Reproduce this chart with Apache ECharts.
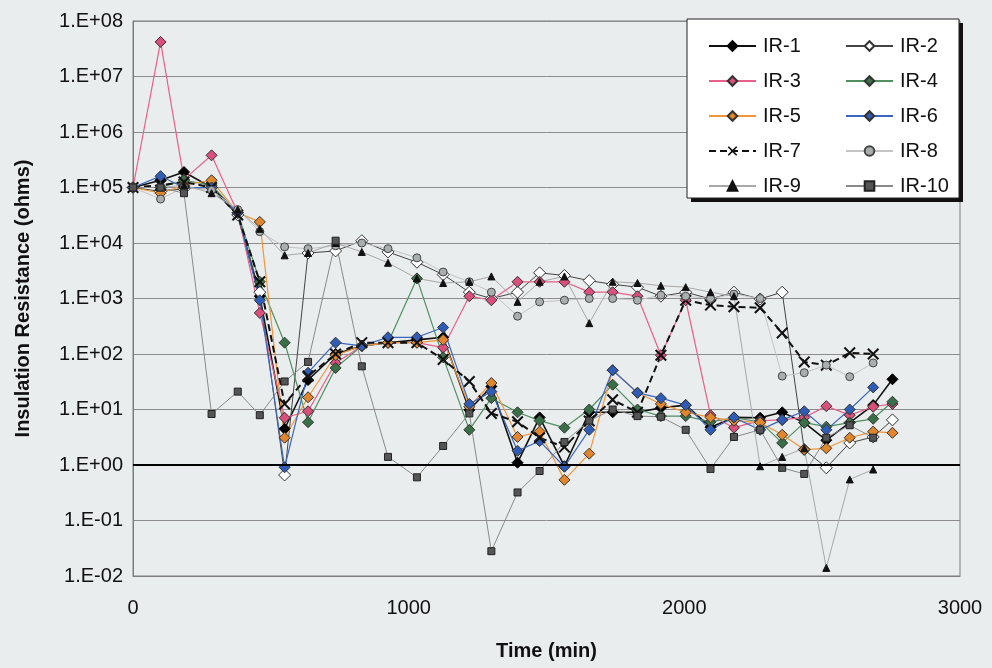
<!DOCTYPE html>
<html>
<head>
<meta charset="utf-8">
<script src="https://cdn.jsdelivr.net/npm/echarts@6/dist/echarts.min.js"></script>
<style>
  html, body { margin: 0; padding: 0; background: #eaeded; }
  #chart { width: 992px; height: 668px; }
</style>
</head>
<body>
<div id="chart"></div>
<script>
// Sampling times (min)
const timeMin = [0, 100, 185, 285, 380, 460, 550, 635, 735, 830, 925, 1030, 1125, 1220, 1300, 1395,
  1475, 1565, 1655, 1740, 1830, 1915, 2005, 2095, 2180, 2275, 2355, 2435, 2515, 2600, 2685, 2755];

// Insulation resistance per channel (ohms)
const ir1 = [1.0e5, 1.35e5, 1.9e5, 1.0e5, 3.2e4, 1.1e3, 4.5, 34, 100, 140, 160, 180, 200, 9.8, 26, 1.1,
  7.2, 0.95, 8.9, 8.9, 8.9, 10.7, 12, 4.8, 7.2, 7.1, 8.9, 5.8, 2.8, 5.8, 12, 35];
const ir2 = [1.0e5, 8.5e4, 9.5e4, 1.0e5, 3.2e4, 1.3e3, 0.66, 6.6e3, 7.2e3, 1.1e4, 6.9e3, 4.5e3, 2.7e3, 1.3e3, 1.0e3, 1.3e3,
  2.9e3, 2.6e3, 2.1e3, 1.8e3, 1.6e3, 1.1e3, 1.3e3, 980, 1.3e3, 980, 1.3e3, 1.9, 0.89, 2.5, 3.2, 6.5];
const ir3 = [1.0e5, 4.2e7, 1.4e5, 3.8e5, 3.5e4, 550, 7.1, 9.3, 69, 140, 160, 160, 130, 1.1e3, 930, 2.0e3,
  2.0e3, 2.0e3, 1.3e3, 1.3e3, 1.1e3, 95, 930, 7.9, 4.7, 6.3, 6.5, 7.2, 11.5, 7.9, 11.2, 12.6];
const ir4 = [1.0e5, 1.0e5, 1.35e5, 1.1e5, 3.5e4, 2.0e3, 160, 5.9, 56, 140, 160, 2.3e3, 87, 4.3, 16, 8.9,
  6.3, 4.7, 10, 28, 10, 7.6, 7.6, 6.0, 7.1, 6.0, 2.5, 5.8, 4.9, 5.8, 6.8, 13.8];
const ir5 = [1.0e5, 7.9e4, 1.1e5, 1.35e5, 3.5e4, 2.4e4, 3.1, 16.6, 95, 140, 160, 160, 180, 11.2, 30, 3.2,
  4.0, 0.54, 1.6, 51, 20, 12.6, 8.9, 7.2, 6.3, 5.8, 3.5, 1.9, 2.0, 3.1, 4.0, 3.8];
const ir6 = [1.0e5, 1.6e5, 1.0e5, 1.0e5, 3.5e4, 930, 0.91, 46, 160, 140, 200, 200, 300, 12.6, 21, 1.8,
  2.7, 0.93, 4.3, 51, 20, 16, 12, 4.3, 7.2, 4.3, 6.5, 9.3, 4.3, 10, 25, null];
const ir7 = [1.0e5, 1.1e5, 1.26e5, 1.0e5, 3.2e4, 2.0e3, 12.6, 40, 100, 160, 160, 160, 80, 32, 8.5, 6.0,
  3.1, 2.1, 6.2, 15, 8.9, 95, 930, 760, 710, 680, 240, 72, 63, 105, 100, null];
const ir8 = [1.0e5, 6.2e4, 1.0e5, 8.9e4, 4.0e4, 1.6e4, 8.5e3, 7.9e3, 8.9e3, 1.0e4, 7.9e3, 5.4e3, 3.0e3, 2.0e3, 1.3e3, 480,
  870, 930, 1.0e3, 1.0e3, 930, 1.15e3, 1.1e3, 1.0e3, 1.2e3, 1.0e3, 40, 46, 63, 39, 69, null];
const ir9 = [1.0e5, 1.0e5, 1.1e5, 7.9e4, 4.0e4, 1.8e4, 6.0e3, 6.6e3, 1.0e4, 6.9e3, 4.4e3, 2.3e3, 1.9e3, 2.0e3, 2.5e3, 870,
  2.0e3, 2.5e3, 360, 2.0e3, 1.9e3, 1.7e3, 1.6e3, 1.3e3, 1.1e3, 0.95, 1.4, 2.0, 0.014, 0.55, 0.83, null];
const ir10 = [1.0e5, 1.0e5, 7.9e4, 8.3, 21, 7.9, 32, 72, 1.1e4, 60, 1.4, 0.6, 2.2, 8.5, 0.028, 0.32,
  0.78, 2.6, 6.3, 10, 7.6, 7.4, 4.3, 0.85, 3.2, 4.3, 0.89, 0.69, 3.1, 5.2, 3.1, null];

const seriesNames = ['IR-1', 'IR-2', 'IR-3', 'IR-4', 'IR-5', 'IR-6', 'IR-7', 'IR-8', 'IR-9', 'IR-10'];
const seriesValues = [ir1, ir2, ir3, ir4, ir5, ir6, ir7, ir8, ir9, ir10];
const xTicks = [0, 1000, 2000, 3000];

const CROSS = 'path://M0,1.2L1.2,0L5,3.8L8.8,0L10,1.2L6.2,5L10,8.8L8.8,10L5,6.2L1.2,10L0,8.8L3.8,5Z';
const EDGE = '#333';

// Per-channel drawing style
const styles = [
  { line: '#111', width: 1.6, symbol: 'diamond', size: 11, fill: '#000', border: '#000' },
  { line: '#444', width: 1, symbol: 'diamond', size: 12, fill: '#fff', border: '#333' },
  { line: '#e8608a', width: 1.2, symbol: 'diamond', size: 11, fill: '#d9507c', border: EDGE },
  { line: '#4f8f60', width: 1.2, symbol: 'diamond', size: 11, fill: '#3a7047', border: EDGE },
  { line: '#f0963a', width: 1.2, symbol: 'diamond', size: 11, fill: '#e0862c', border: EDGE },
  { line: '#3a66c0', width: 1.2, symbol: 'diamond', size: 11, fill: '#2f5db5', border: EDGE },
  { line: '#111', width: 2, type: [7, 4], symbol: CROSS, size: 12, fill: '#111', border: '#111', bw: 0 },
  { line: '#c4c4c4', width: 1, symbol: 'circle', size: 8, fill: '#a9aeae', border: '#444' },
  { line: '#a8a8a8', width: 1, symbol: 'triangle', size: 7, fill: '#111', border: '#111' },
  { line: '#8a8a8a', width: 1, symbol: 'rect', size: 7, fill: '#555', border: '#222' }
];

function expLabel(v) {
  const e = Math.round(Math.log10(v));
  const a = Math.abs(e);
  return '1.E' + (e < 0 ? '-' : '+') + (a < 10 ? '0' + a : '' + a);
}

const series = seriesNames.map((name, i) => {
  const st = styles[i];
  return {
    name: name,
    type: 'line',
    data: timeMin.map((t, k) => seriesValues[i][k] == null ? null : [t, seriesValues[i][k]]),
    symbol: st.symbol,
    symbolSize: st.size,
    showAllSymbol: true,
    connectNulls: false,
    lineStyle: { color: st.line, width: st.width, type: st.type || 'solid' },
    itemStyle: { color: st.fill, borderColor: st.border, borderWidth: st.bw == null ? 1 : st.bw },
    emphasis: { disabled: true },
    z: 3
  };
});

// Reference line at 1 ohm
series[0].markLine = {
  silent: true,
  symbol: 'none',
  label: { show: false },
  lineStyle: { color: '#000', width: 2, type: 'solid' },
  data: [{ yAxis: 1 }]
};

const textFont = 'Liberation Sans, Arial, sans-serif';

const legendCommon = {
  orient: 'vertical',
  itemWidth: 47,
  itemHeight: 12,
  itemGap: 15,
  textStyle: { fontFamily: textFont, fontSize: 20, color: '#111', padding: [0, 0, 0, 2] },
  z: 20,
  selectedMode: false
};

const chart = echarts.init(document.getElementById('chart'), null, { renderer: 'canvas' });
chart.setOption({
  animation: false,
  backgroundColor: '#eaeded',
  grid: {
    left: 133, right: 32, top: 21, bottom: 92,
    show: true, borderColor: '#7d7d7d', borderWidth: 1, backgroundColor: 'transparent'
  },
  xAxis: {
    type: 'value',
    min: 0, max: 3000, interval: 1000,
    name: 'Time (min)',
    nameLocation: 'middle',
    nameGap: 65,
    nameTextStyle: { fontFamily: textFont, fontSize: 20, fontWeight: 'bold', color: '#111' },
    axisLine: { show: true, lineStyle: { color: '#7d7d7d', width: 1 } },
    axisTick: { show: false },
    splitLine: { show: false },
    axisLabel: {
      margin: 22, fontFamily: textFont, fontSize: 20, color: '#111',
      formatter: v => (xTicks.indexOf(v) >= 0 ? String(v) : '')
    }
  },
  yAxis: {
    type: 'log',
    logBase: 10,
    min: 0.01, max: 1e8,
    interval: 1,
    name: 'Insulation Resistance (ohms)',
    nameLocation: 'middle',
    nameGap: 100,
    nameTextStyle: { fontFamily: textFont, fontSize: 20, fontWeight: 'bold', color: '#111' },
    axisLine: { show: true, lineStyle: { color: '#7d7d7d', width: 1 } },
    axisTick: { show: false },
    splitLine: { show: true, lineStyle: { color: '#8c8c8c', width: 1 } },
    axisLabel: { margin: 10, fontFamily: textFont, fontSize: 20, color: '#111', formatter: expLabel }
  },
  graphic: [
    { type: 'rect', z: 15, shape: { x: 691, y: 23, width: 272, height: 179 }, style: { fill: '#111' } },
    { type: 'rect', z: 16, shape: { x: 687, y: 19, width: 272, height: 179 }, style: { fill: '#fff', stroke: '#222', lineWidth: 1 } }
  ],
  legend: [
    Object.assign({ left: 703, top: 31, data: ['IR-1', 'IR-3', 'IR-5', 'IR-7', 'IR-9'] }, legendCommon),
    Object.assign({ left: 840, top: 31, data: ['IR-2', 'IR-4', 'IR-6', 'IR-8', 'IR-10'] }, legendCommon)
  ],
  series: series
});
</script>
</body>
</html>
